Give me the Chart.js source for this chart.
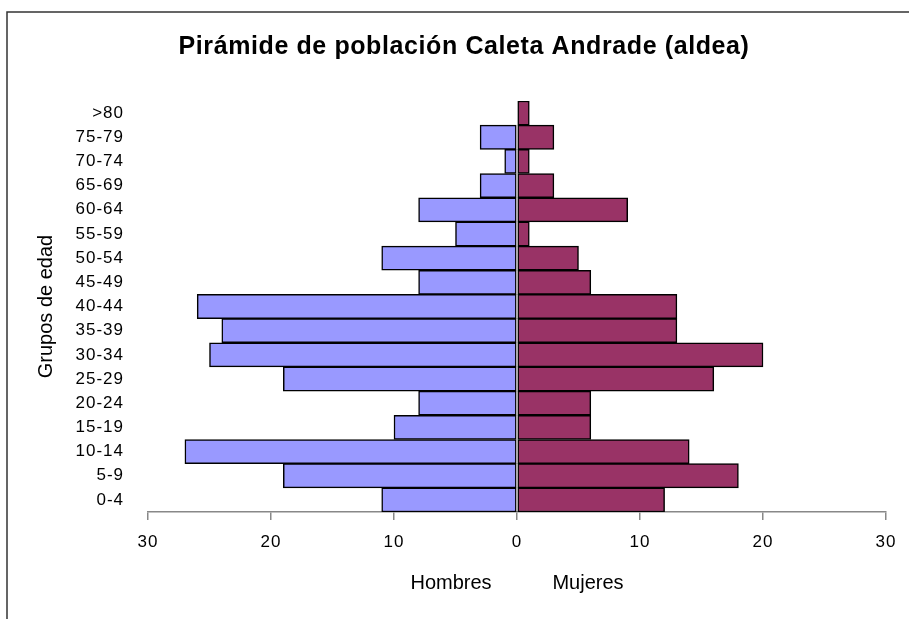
<!DOCTYPE html>
<html>
<head>
<meta charset="utf-8">
<title>Pirámide de población</title>
<script src="https://cdn.jsdelivr.net/npm/chart.js@4.4.1/dist/chart.umd.min.js"></script>
<style>
  html, body { margin: 0; padding: 0; background: #fff; }
  #wrap { width: 909px; height: 619px; position: relative; }
</style>
</head>
<body>
<div id="wrap"><canvas id="chart"></canvas></div>
<script>
// age groups, top to bottom as in the picture
const groups = ['>80', '75-79', '70-74', '65-69', '60-64', '55-59', '50-54', '45-49',
    '40-44', '35-39', '30-34', '25-29', '20-24', '15-19', '10-14', '5-9', '0-4']
const hombres = [0, 3, 1, 3, 8, 5, 11, 8, 26, 24, 25, 19, 8, 10, 27, 19, 11]
const mujeres = [1, 3, 1, 3, 9, 1, 5, 6, 13, 13, 20, 16, 6, 6, 14, 18, 12]
const xTicks = [-30, -20, -10, 0, 10, 20, 30]

const title = 'Pirámide de población Caleta Andrade (aldea)'
const yTitle = 'Grupos de edad'
const sideLabels = ['Hombres', 'Mujeres']

const FONT = "'Liberation Sans', Arial, sans-serif"

// frame, titles and the Hombres / Mujeres captions
const decor = {
    id: 'decor',
    beforeDraw(chart) {
        const { ctx } = chart
        ctx.save()
        ctx.fillStyle = '#fff'
        ctx.fillRect(0, 0, chart.width, chart.height)
        ctx.strokeStyle = '#333'
        ctx.lineWidth = 1.5
        ctx.strokeRect(7, 12, 1000, 1000)
        ctx.restore()
        ctx.letterSpacing = '1px' // reference text is a bit wider than Arial
    },
    afterDraw(chart) {
        const { ctx } = chart
        const x = chart.scales.x
        const y = chart.scales.y
        ctx.save()
        ctx.letterSpacing = '0.6px'
        ctx.fillStyle = '#000'
        ctx.font = 'bold 25px ' + FONT
        ctx.textAlign = 'center'
        ctx.textBaseline = 'alphabetic'
        ctx.fillText(title, 464, 54)

        ctx.letterSpacing = '0px'
        ctx.font = '20px ' + FONT
        ctx.textBaseline = 'middle'
        const zero = x.getPixelForValue(0)
        ctx.fillText(sideLabels[0], zero - 66, 583)
        ctx.fillText(sideLabels[1], zero + 71, 583)

        ctx.font = '20px ' + FONT
        ctx.translate(46, (y.top + y.bottom) / 2)
        ctx.rotate(-Math.PI / 2)
        ctx.fillText(yTitle, 0, 0)
        ctx.restore()
        ctx.letterSpacing = '0px'
    }
}

const chart = new Chart('chart', {
    type: 'bar',
    data: {
        labels: groups,
        datasets: [
            {
                label: 'Hombres',
                data: hombres.map(v => -v),
                backgroundColor: '#9999ff',
                borderColor: '#000',
                borderWidth: 1.5,
                borderSkipped: false,
            },
            {
                label: 'Mujeres',
                data: mujeres,
                backgroundColor: '#993366',
                borderColor: '#000',
                borderWidth: 1.5,
                borderSkipped: false,
            },
        ],
    },
    options: {
        indexAxis: 'y',
        responsive: true,
        maintainAspectRatio: false,
        animation: false,
        barPercentage: 1,
        categoryPercentage: 1,
        layout: { padding: { left: 0, top: 101, right: 23, bottom: 0 } },
        plugins: {
            legend: { display: false },
            title: { display: false },
            tooltip: { enabled: false },
        },
        scales: {
            x: {
                stacked: true,
                min: -30,
                max: 30,
                afterBuildTicks: scale => {
                    scale.ticks = xTicks.map(v => ({ value: v }))
                },
                afterFit: scale => { scale.height = 107 },
                grid: {
                    drawOnChartArea: false,
                    drawTicks: true,
                    tickLength: 8,
                    color: '#888',
                    lineWidth: 1.5,
                },
                border: { display: true, color: '#888', width: 1.5 },
                ticks: {
                    color: '#000',
                    font: { family: FONT, size: 17 },
                    padding: 12,
                    maxRotation: 0,
                    callback: v => Math.abs(v),
                },
            },
            y: {
                stacked: true,
                afterFit: scale => { scale.width = 148 },
                grid: { display: false },
                border: { display: false },
                ticks: {
                    color: '#000',
                    font: { family: FONT, size: 17 },
                    padding: 16,
                    autoSkip: false,
                },
            },
        },
    },
    plugins: [decor],
})
</script>
</body>
</html>
